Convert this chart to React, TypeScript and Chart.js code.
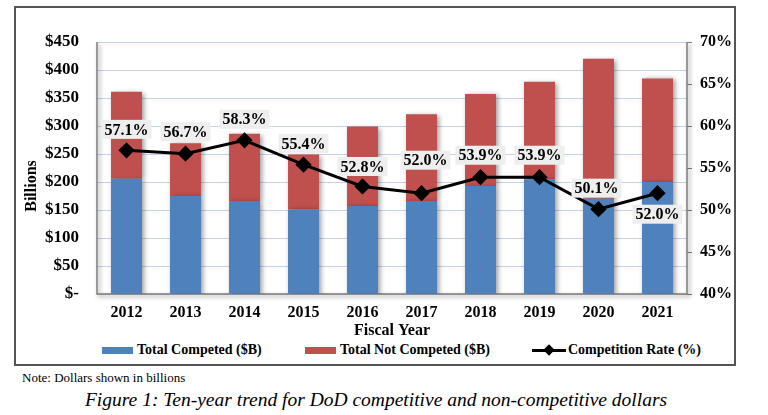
import React, { useEffect, useRef } from 'react';
import { Chart, registerables } from 'chart.js';

Chart.register(...registerables);

// ---- Data ----
const fiscalYears = ['2012', '2013', '2014', '2015', '2016', '2017', '2018', '2019', '2020', '2021'];
const totalCompeted = [206, 175, 166, 151, 157, 166, 193, 205, 170, 200];
const totalNotCompeted = [155, 94, 120, 98, 142, 155, 164, 174, 250, 185];
const competitionRate = [57.1, 56.7, 58.3, 55.4, 52.8, 52.0, 53.9, 53.9, 50.1, 52.0];

const SERIF = '"Liberation Serif", "Times New Roman", Times, serif';
const BLUE = '#4f81bd';
const RED = '#c0504d';
const GRID = '#c3d2ee';

// label placement relative to each point (style config)
const rateLabelDy = [-21, -22, -21, -21, -20, -33, -22, -22, -21, 21];
const rateLabelDx = [0, 0, 0, 0, 0, 4, 0, 0, -2, 0];

const framePlugin = {
  id: 'frame',
  beforeDatasetsDraw(chart: any) {
    const { ctx, chartArea } = chart;
    const { left, right, top, bottom } = chartArea;
    ctx.save();
    ctx.shadowColor = 'rgba(0,0,0,0.45)';
    ctx.shadowBlur = 4;
    ctx.shadowOffsetX = 2;
    ctx.shadowOffsetY = 2;
    ctx.strokeStyle = '#7f7f7f';
    ctx.lineWidth = 1.5;
    ctx.beginPath();
    ctx.moveTo(left, top);
    ctx.lineTo(left, bottom);
    ctx.lineTo(right, bottom);
    ctx.lineTo(right, top);
    ctx.stroke();
    ctx.restore();
  },
};

const barShadowPlugin = {
  id: 'barShadow',
  beforeDatasetDraw(chart: any, args: any) {
    const ds = chart.data.datasets[args.index];
    if (ds.type !== 'bar') return;
    const ctx = chart.ctx;
    ctx.save();
    ctx.shadowColor = 'rgba(0,0,0,0.4)';
    ctx.shadowBlur = 5;
    ctx.shadowOffsetX = 2;
    ctx.shadowOffsetY = 1;
  },
  afterDatasetDraw(chart: any, args: any) {
    const ds = chart.data.datasets[args.index];
    if (ds.type !== 'bar') return;
    chart.ctx.restore();
  },
};

const rateLabelPlugin = {
  id: 'rateLabels',
  afterDatasetsDraw(chart: any) {
    const meta = chart.getDatasetMeta(0);
    const ctx = chart.ctx;
    ctx.save();
    ctx.font = `bold 16px ${SERIF}`;
    ctx.textAlign = 'center';
    ctx.textBaseline = 'middle';
    meta.data.forEach((pt: any, i: number) => {
      const text = competitionRate[i].toFixed(1) + '%';
      const w = ctx.measureText(text).width + 6;
      const h = 19;
      const cx = pt.x + rateLabelDx[i];
      const cy = pt.y + rateLabelDy[i];
      ctx.fillStyle = '#eeeeee';
      ctx.fillRect(cx - w / 2, cy - h / 2, w, h);
      ctx.fillStyle = '#000';
      ctx.fillText(text, cx, cy + 1);
    });
    ctx.restore();
  },
};

const yTitlePlugin = {
  id: 'yTitle',
  afterDraw(chart: any) {
    const ctx = chart.ctx;
    ctx.save();
    ctx.translate(16, 178);
    ctx.rotate(-Math.PI / 2);
    ctx.font = `bold 16px ${SERIF}`;
    ctx.textAlign = 'center';
    ctx.textBaseline = 'middle';
    ctx.fillStyle = '#000';
    ctx.fillText('Billions', 0, 0);
    ctx.restore();
  },
};

function ChartCanvas() {
  const ref = useRef<HTMLCanvasElement | null>(null);
  useEffect(() => {
    if (!ref.current) return;
    const tickFont = { family: SERIF, size: 16, weight: 'bold' as const };
    const yTickFont = { family: SERIF, size: 17, weight: 'bold' as const };
    const chart = new Chart(ref.current, {
      type: 'bar',
      data: {
        labels: fiscalYears,
        datasets: [
          {
            type: 'line' as const,
            label: 'Competition Rate (%)',
            data: competitionRate,
            yAxisID: 'y1',
            borderColor: '#000',
            backgroundColor: '#000',
            borderWidth: 3,
            pointStyle: 'rectRot',
            pointRadius: 6,
            pointBackgroundColor: '#000',
            pointBorderColor: '#000',
            tension: 0,
            order: 0,
          },
          {
            type: 'bar' as const,
            label: 'Total Competed ($B)',
            data: totalCompeted,
            backgroundColor: BLUE,
            yAxisID: 'y',
            stack: 's',
            categoryPercentage: 1,
            barPercentage: 0.525,
            order: 1,
          },
          {
            type: 'bar' as const,
            label: 'Total Not Competed ($B)',
            data: totalNotCompeted,
            backgroundColor: RED,
            yAxisID: 'y',
            stack: 's',
            categoryPercentage: 1,
            barPercentage: 0.525,
            order: 1,
          },
        ],
      } as any,
      options: {
        responsive: false,
        animation: false,
        devicePixelRatio: 1,
        layout: { padding: { top: 34, left: 0, right: 0, bottom: 0 } },
        plugins: {
          legend: { display: false },
          tooltip: { enabled: false },
        },
        scales: {
          x: {
            stacked: true,
            grid: { display: false },
            border: { display: false },
            ticks: { font: tickFont, color: '#000', padding: 1 },
            title: {
              display: true,
              text: 'Fiscal Year',
              font: tickFont,
              color: '#000',
              padding: { top: 0, bottom: 0 },
            },
            afterFit: (s: any) => {
              s.height = 46;
            },
          },
          y: {
            stacked: true,
            position: 'left',
            min: 0,
            max: 450,
            ticks: {
              stepSize: 50,
              font: yTickFont,
              color: '#000',
              padding: 18,
              callback: (v: any) => (Number(v) === 0 ? '$-' : '$' + v),
            },
            grid: { color: GRID, lineWidth: 1, drawTicks: false },
            border: { display: false },
            afterFit: (s: any) => {
              s.width = 81;
            },
          },
          y1: {
            position: 'right',
            min: 40,
            max: 70,
            ticks: {
              stepSize: 5,
              font: tickFont,
              color: '#000',
              padding: 8,
              callback: (v: any) => v + '%',
            },
            grid: {
              drawOnChartArea: false,
              drawTicks: true,
              tickLength: 5,
              color: '#7f7f7f',
            },
            border: { display: false },
            afterFit: (s: any) => {
              s.width = 47;
            },
          },
        },
      } as any,
      plugins: [framePlugin, barShadowPlugin, rateLabelPlugin, yTitlePlugin],
    });
    return () => chart.destroy();
  }, []);
  return (
    <canvas
      ref={ref}
      width={718}
      height={332}
      style={{ position: 'absolute', left: 0, top: 0, width: 718, height: 332 }}
    />
  );
}

const legendText: React.CSSProperties = {
  position: 'absolute',
  top: 333,
  fontFamily: SERIF,
  fontWeight: 'bold',
  fontSize: 14,
  lineHeight: '18px',
  color: '#000',
  whiteSpace: 'nowrap',
};

export default function App() {
  return (
    <div
      style={{
        position: 'absolute',
        left: 0,
        top: 0,
        width: 768,
        height: 415,
        background: '#fff',
        overflow: 'hidden',
        fontFamily: SERIF,
      }}
    >
      <div
        style={{
          position: 'absolute',
          left: 14,
          top: 6,
          width: 722,
          height: 360,
          border: '2px solid #555',
          boxSizing: 'border-box',
        }}
      >
        <ChartCanvas />
        {/* legend */}
        <div style={{ position: 'absolute', left: 86, top: 339, width: 31, height: 7, background: BLUE }} />
        <div style={{ ...legendText, left: 121 }}>Total Competed ($B)</div>
        <div style={{ position: 'absolute', left: 289, top: 339, width: 31, height: 7, background: RED }} />
        <div style={{ ...legendText, left: 324 }}>Total Not Competed ($B)</div>
        <div style={{ position: 'absolute', left: 516, top: 341, width: 34, height: 3, background: '#000' }} />
        <div
          style={{
            position: 'absolute',
            left: 529,
            top: 338,
            width: 8,
            height: 8,
            background: '#000',
            transform: 'rotate(45deg)',
          }}
        />
        <div style={{ ...legendText, left: 552 }}>Competition Rate (%)</div>
      </div>
      <div
        style={{
          position: 'absolute',
          left: 22,
          top: 370,
          fontSize: 13,
          lineHeight: '16px',
          color: '#000',
          whiteSpace: 'nowrap',
        }}
      >
        Note: Dollars shown in billions
      </div>
      <div
        style={{
          position: 'absolute',
          left: 0,
          width: 752,
          top: 389,
          textAlign: 'center',
          fontSize: 19.5,
          fontStyle: 'italic',
          lineHeight: '22px',
          color: '#000',
          whiteSpace: 'nowrap',
        }}
      >
        Figure 1: Ten-year trend for DoD competitive and non-competitive dollars
      </div>
    </div>
  );
}
